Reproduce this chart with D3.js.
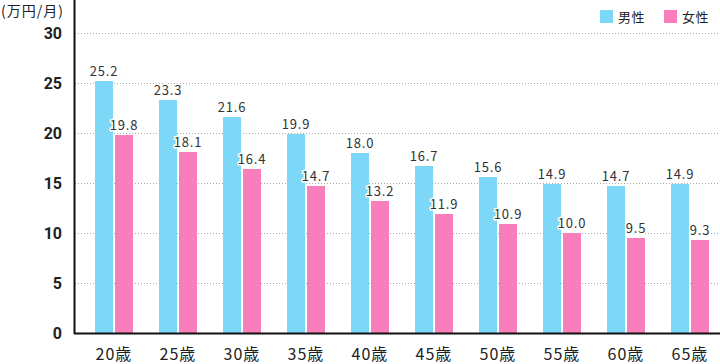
<!DOCTYPE html>
<html>
<head>
<meta charset="utf-8">
<script src="https://cdn.jsdelivr.net/npm/d3@7"></script>
<style>
  body { margin: 0; background: #fff; }
  svg { display: block; font-family: "Noto Sans CJK JP", "Noto Sans", sans-serif; }
</style>
</head>
<body>
<script>
var ages = ["20歳", "25歳", "30歳", "35歳", "40歳", "45歳", "50歳", "55歳", "60歳", "65歳"];
var male = [25.2, 23.3, 21.6, 19.9, 18.0, 16.7, 15.6, 14.9, 14.7, 14.9];
var female = [19.8, 18.1, 16.4, 14.7, 13.2, 11.9, 10.9, 10.0, 9.5, 9.3];
var yTicks = [0, 5, 10, 15, 20, 25, 30];
var seriesNames = ["男性", "女性"];
var colors = ["#7dd7f7", "#fa7dbc"];

var width = 720, height = 364;
var svg = d3.select("body").append("svg").attr("width", width).attr("height", height);

var x = d3.scaleBand().domain(ages).range([82, 722]);
var y = d3.scaleLinear().domain([0, 30]).range([333, 33]);
var barW = 18, gap = 2;

// grid lines
svg.selectAll("line.grid").data(yTicks.slice(1)).enter().append("line")
  .attr("x1", 75).attr("x2", 720)
  .attr("y1", function(d) { return y(d) + 0.5; })
  .attr("y2", function(d) { return y(d) + 0.5; })
  .attr("stroke", "#aaa").attr("stroke-width", 1)
  .attr("stroke-dasharray", "1,2");

// y tick labels
svg.selectAll("text.ytick").data(yTicks).enter().append("text")
  .attr("x", 62).attr("y", function(d) { return y(d); })
  .attr("dy", "0.36em")
  .attr("text-anchor", "end")
  .style("font-size", "16px").style("font-weight", "bold").style("fill", "#222")
  .style("font-family", "Roboto, 'Noto Sans', sans-serif")
  .text(function(d) { return d; });

svg.append("text").attr("x", 1).attr("y", 16)
  .style("font-size", "14px").style("fill", "#222").style("letter-spacing", "1px")
  .text("(万円/月)");

var seriesData = [male, female];
seriesData.forEach(function(vals, s) {
  svg.selectAll("rect.s" + s).data(vals).enter().append("rect")
    .attr("x", function(d, i) { return x(ages[i]) + x.bandwidth() / 2 - barW - gap / 2 + s * (barW + gap); })
    .attr("y", function(d) { return y(d); })
    .attr("width", barW)
    .attr("height", function(d) { return y(0) - y(d); })
    .attr("fill", colors[s]);
});

seriesData.forEach(function(vals, s) {
  svg.selectAll("text.v" + s).data(vals).enter().append("text")
    .attr("x", function(d, i) { return x(ages[i]) + x.bandwidth() / 2 - barW / 2 - gap / 2 + s * (barW + gap); })
    .attr("y", function(d) { return y(d) - 5; })
    .attr("text-anchor", "middle")
    .style("font-size", "13px").style("fill", "#333").style("letter-spacing", "0.8px")
    .style("stroke", "#fff").style("stroke-width", 3).style("paint-order", "stroke")
    .text(function(d) { return d.toFixed(1); });
});

// axes
svg.append("line").attr("x1", 74.5).attr("x2", 74.5).attr("y1", 0).attr("y2", 334)
  .attr("stroke", "#111").attr("stroke-width", 2);
svg.append("line").attr("x1", 74).attr("x2", 720).attr("y1", 333.5).attr("y2", 333.5)
  .attr("stroke", "#111").attr("stroke-width", 2);

svg.selectAll("text.xtick").data(ages).enter().append("text")
  .attr("x", function(d) { return x(d) + x.bandwidth() / 2; })
  .attr("y", 360)
  .attr("text-anchor", "middle")
  .style("font-size", "16px").style("fill", "#222").style("letter-spacing", "1px")
  .text(function(d) { return d; });

// legend
var legendX = [600, 664];
seriesNames.forEach(function(n, i) {
  svg.append("rect").attr("x", legendX[i]).attr("y", 10).attr("width", 13).attr("height", 13).attr("fill", colors[i]);
  svg.append("text").attr("x", legendX[i] + 18).attr("y", 22)
    .style("font-size", "13px").style("fill", "#222").style("letter-spacing", "0.5px").text(n);
});
</script>
</body>
</html>
